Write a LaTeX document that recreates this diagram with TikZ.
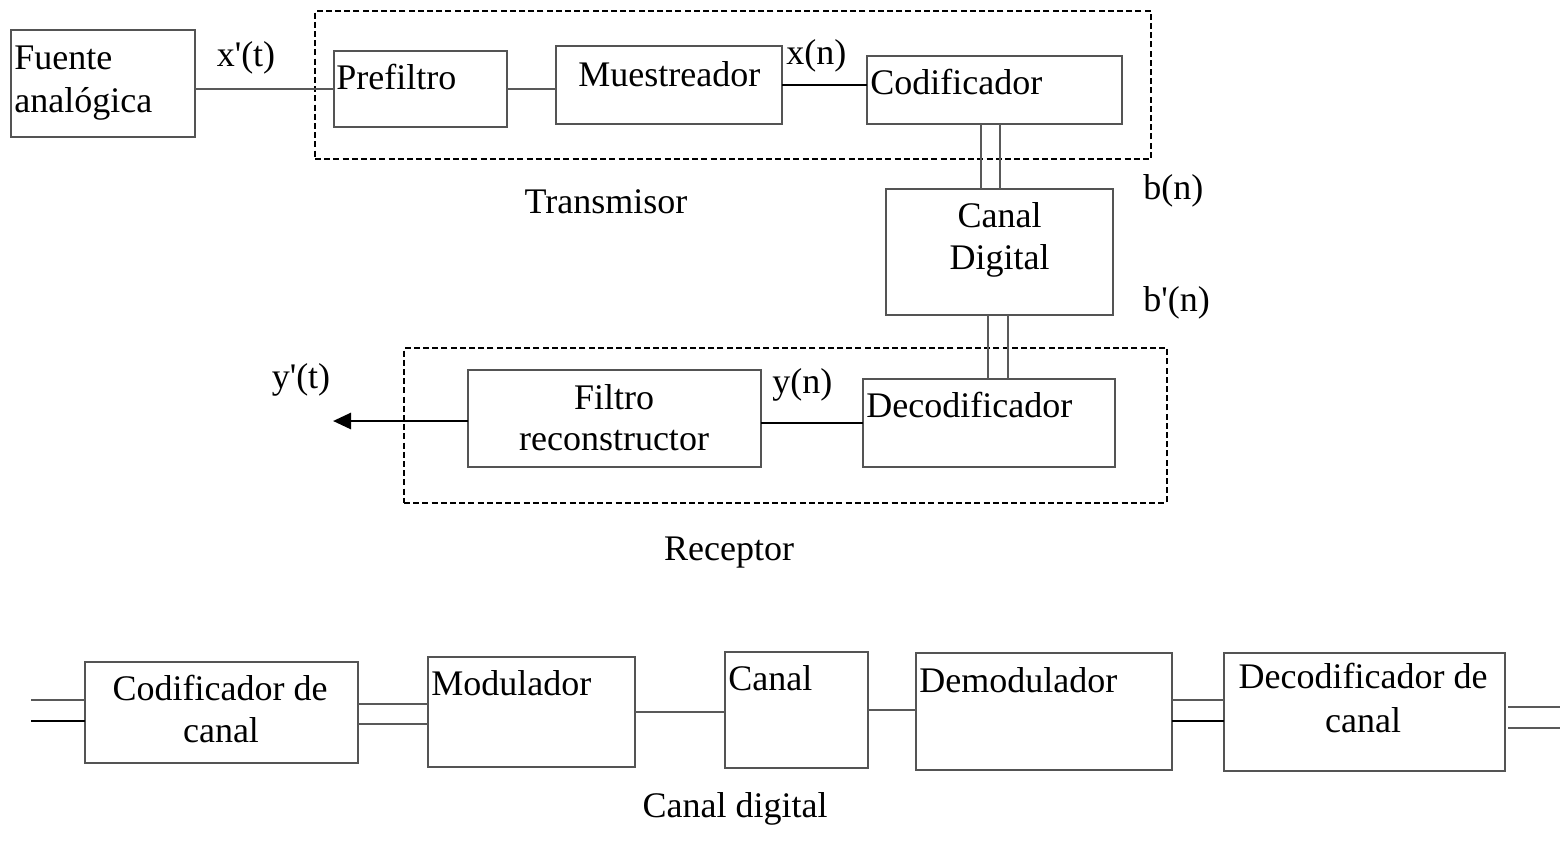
\documentclass[tikz,border=0pt]{standalone}
\usepackage{fontspec}
\newfontfamily\serif{Liberation Serif}
\usetikzlibrary{calc,arrows.meta}
\definecolor{boxgray}{gray}{0.33}
\definecolor{wiregray}{gray}{0.35}
\begin{document}
\begin{tikzpicture}[x=0.5pt,y=-0.5pt,
  box/.style={draw=boxgray, line width=0.7pt, inner sep=0pt, outer sep=0pt, anchor=north west},
  group/.style={draw=black, line width=0.8pt, dash pattern=on 3pt off 1.6pt, inner sep=0pt, outer sep=0pt, anchor=north west},
  wire/.style={draw=wiregray, line width=0.6pt},
  outarrow/.style={draw=black, line width=1.4pt, -{Triangle[length=9pt,width=8pt]}},
  txt/.style={inner sep=0pt, font=\serif\fontsize{18}{21.5}\selectfont},
  ltxt/.style={txt, anchor=base west},
  ctxt/.style={txt, anchor=base}]
\useasboundingbox (0,0) rectangle (1566,853);

% ---- transmitter ----
\node[group, minimum width=836*0.5pt, minimum height=148*0.5pt] (tx) at (315,11) {};
\node[box, minimum width=184*0.5pt, minimum height=107*0.5pt] (fuente) at (11,30) {};
\node[box, minimum width=173*0.5pt, minimum height=76*0.5pt]  (pre) at (334,51) {};
\node[box, minimum width=226*0.5pt, minimum height=78*0.5pt]  (mue) at (556,46) {};
\node[box, minimum width=255*0.5pt, minimum height=68*0.5pt]  (cod) at (867,56) {};

\node[ltxt] (tfu1) at (14,69) {Fuente};
\node[ltxt] (tfu2) at (14,112) {analógica};
\node[ltxt] (tpre) at (336,89) {Prefiltro};
\node[ltxt] (tmue) at (578,86) {Muestreador};
\node[ltxt] (tcod) at (870,94) {Codificador};
\node[ctxt] (lxt) at (246,66) {x'(t)};
\node[ltxt] (lxn) at (786,64) {x(n)};
\node[ctxt] (ltx) at (606,213) {Transmisor};

\draw[wire] (pre.west) -- (pre.west -| fuente.east);
\draw[wire] (pre.east) -- (pre.east -| mue.west);
\draw[wire, draw=black] (mue.east) -- (mue.east -| cod.west);

% ---- digital channel ----
\node[box, minimum width=227*0.5pt, minimum height=126*0.5pt] (cd) at (886,189) {};
\node[ctxt] (tcd1) at (999.5,227) {Canal};
\node[ctxt] (tcd2) at (999.5,269) {Digital};
\node[ltxt] (lbn) at (1143,199) {b(n)};
\node[ltxt] (lbpn) at (1143,311) {b'(n)};

% bus from the encoder down to the channel
\coordinate (bA) at ($(cd.north)+(-18.5,0)$);
\coordinate (bB) at ($(cd.north)+(0.5,0)$);
\draw[wire] (bA) -- (bA |- cod.south);
\draw[wire] (bB) -- (bB |- cod.south);

% ---- receiver ----
\node[group, minimum width=763*0.5pt, minimum height=155*0.5pt] (rx) at (404,348) {};
\node[box, minimum width=293*0.5pt, minimum height=97*0.5pt] (fil) at (468,370) {};
\node[box, minimum width=252*0.5pt, minimum height=88*0.5pt] (dec) at (863,379) {};
\node[ctxt] (tfil1) at (614,409) {Filtro};
\node[ctxt] (tfil2) at (614,450) {reconstructor};
\node[ltxt] (tdec) at (866,417) {Decodificador};
\node[ltxt] (lyn) at (772,393) {y(n)};
\node[ctxt] (lyt) at (301,388) {y'(t)};
\node[ctxt] (lrx) at (729,560) {Receptor};
\coordinate (yout) at (333,421);

% bus from the channel down to the decoder
\coordinate (cA) at ($(cd.south)+(-11.5,0)$);
\coordinate (cB) at ($(cd.south)+(8.5,0)$);
\draw[wire] (cA) -- (cA |- dec.north);
\draw[wire] (cB) -- (cB |- dec.north);
\draw[wire, draw=black] (dec.west) -- (dec.west -| fil.east);
\draw[outarrow] (fil.west |- yout) -- (yout);

% ---- inside the digital channel ----
\node[box, minimum width=273*0.5pt, minimum height=101*0.5pt] (cc) at (85,662) {};
\node[box, minimum width=207*0.5pt, minimum height=110*0.5pt] (mod) at (428,657) {};
\node[box, minimum width=143*0.5pt, minimum height=116*0.5pt] (can) at (725,652) {};
\node[box, minimum width=256*0.5pt, minimum height=117*0.5pt] (dem) at (916,653) {};
\node[box, minimum width=281*0.5pt, minimum height=118*0.5pt] (dc) at (1224,653) {};

\node[ctxt] (tcc1) at (220,700) {Codificador de};
\node[ctxt] (tcc2) at (221,742) {canal};
\node[ltxt] (tmod) at (431,695) {Modulador};
\node[ltxt] (tcan) at (728,690) {Canal};
\node[ltxt] (tdem) at (919,692) {Demodulador};
\node[ctxt] (tdc1) at (1363,688) {Decodificador de};
\node[ctxt] (tdc2) at (1363,732) {canal};
\node[ctxt] (lcd) at (735,817) {Canal digital};

\coordinate (inL) at (31,712);
\coordinate (outR) at (1560,712);

% input pair
\draw[wire] ($(cc.west)+(0,-12.5)$) -- ($(inL)+(0,-12)$);
\draw[wire, draw=black] ($(cc.west)+(0,8.5)$) -- ($(inL)+(0,9)$);
% encoder to modulator pair
\coordinate (dA) at ($(cc.east)+(0,-8.5)$);
\coordinate (dB) at ($(cc.east)+(0,11.5)$);
\draw[wire] (dA) -- (dA -| mod.west);
\draw[wire] (dB) -- (dB -| mod.west);
\draw[wire] (mod.east) -- (mod.east -| can.west);
\draw[wire] (can.east) -- (can.east -| dem.west);
% demodulator to decoder pair
\coordinate (eA) at ($(dc.west)+(0,-12)$);
\coordinate (eB) at ($(dc.west)+(0,9)$);
\draw[wire] (eA) -- (eA -| dem.east);
\draw[wire, draw=black] (eB) -- (eB -| dem.east);
% output pair
\draw[wire] ($(dc.east)+(3,-5)$) -- ($(outR)+(0,-5)$);
\draw[wire] ($(dc.east)+(3,16)$) -- ($(outR)+(0,16)$);
\end{tikzpicture}
\end{document}
